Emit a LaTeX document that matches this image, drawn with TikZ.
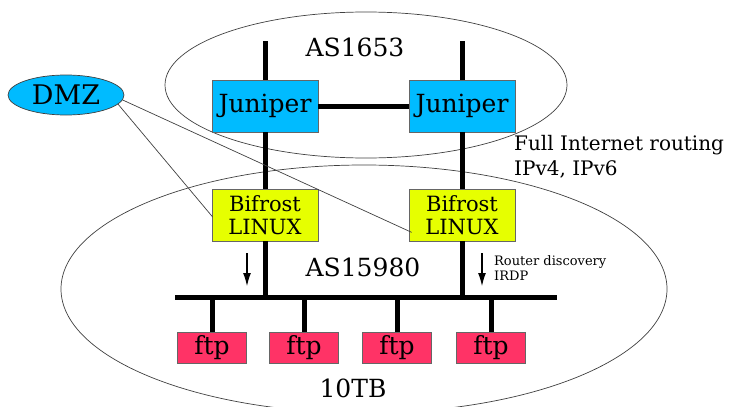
\documentclass[tikz,border=0pt]{standalone}
\usepackage{fontspec}
\setmainfont{DejaVu Serif}
\usepackage{tikz}
\usetikzlibrary{calc,positioning,arrows.meta,shapes.geometric}
\definecolor{jblue}{RGB}{0,187,255}
\definecolor{bifyellow}{RGB}{230,255,0}
\definecolor{ftpred}{RGB}{255,51,102}
\begin{document}
\begin{tikzpicture}[x=1pt,y=-1pt,
    box/.style={draw=black!60,line width=0.7pt,inner sep=0pt},
    jun/.style={box,fill=jblue,minimum width=106pt,minimum height=52pt,font=\fontsize{25}{28}\selectfont},
    bif/.style={box,fill=bifyellow,minimum width=106pt,minimum height=52pt,align=center,font=\fontsize{21}{23}\selectfont},
    ftpbox/.style={box,fill=ftpred,minimum width=69pt,minimum height=31pt,font=\fontsize{25}{28}\selectfont},
    wire/.style={line width=5pt},
    thin/.style={draw=black!75,line width=0.7pt},
    down/.style={-{Latex[length=13pt,width=8pt]},line width=1.1pt},
    big/.style={font=\fontsize{25}{28}\selectfont}]
                                \useasboundingbox (0,0) rectangle (732,407);
                                \clip (0,0) rectangle (732,407);
                                \draw[thin] (366,85) ellipse [x radius=201,y radius=73];
                                \draw[thin] (364,289) ellipse [x radius=303,y radius=124];
                                \node[box,ellipse,draw=black!75,fill=jblue,minimum width=116pt,minimum height=40pt,font=\fontsize{27}{28}\selectfont] (dmz) at (66,95) {DMZ};

                                \node[jun] (junL) at (265,106) {Juniper};
                                \node[jun] (junR) at (462,106) {Juniper};
                                \node[bif] (bifL) at (265,215) {Bifrost\\LINUX};
                                \node[bif] (bifR) at (462,215) {Bifrost\\LINUX};
                                \coordinate (topL) at (265,41);
                                \coordinate (topR) at (462,41);
                                \coordinate (busW) at (175,297);
                                \coordinate (busE) at (557,297);

                                \node[ftpbox] (ftp1) at (212,348) {ftp};
                                \node[ftpbox] (ftp2) at (304,348) {ftp};
                                \node[ftpbox] (ftp3) at (397,348) {ftp};
                                \node[ftpbox] (ftp4) at (491,348) {ftp};

                                \draw[wire] (topL) -- (junL);
                                \draw[wire] (topR) -- (junR);
                                \draw[wire] (junL) -- (bifL);
                                \draw[wire] (junR) -- (bifR);
                                \draw[wire] (junL) -- (junR);
                                \draw[wire] (bifL) -- (bifL |- busW);
                                \draw[wire] (bifR) -- (bifR |- busW);
                                \draw[wire] (busW) -- (busE);
                                \foreach \f in {ftp1,ftp2,ftp3,ftp4}
                                    \draw[wire] (\f) -- (\f |- busW);

                                \draw[thin] (dmz.-5) -- ($(bifR.south west)+(3,-9)$);
                                \draw[thin] (dmz.-10) -- ($(bifL.west)+(1,2)$);

                                \coordinate (irdL1) at (247,253);
                                \coordinate (irdL2) at (247,286);
                                \coordinate (irdR1) at (482,253);
                                \coordinate (irdR2) at (482,286);
                                \draw[down] (irdL1) -- (irdL2);
                                \draw[down] (irdR1) -- (irdR2);

                                \node[big] (as1) at (355,47) {AS1653};
                                \node[big] (as2) at (363,267) {AS15980};
                                \node[big] (tb) at (353,388) {10TB};
                                \node[anchor=west,align=left,inner sep=0pt,font=\fontsize{20}{25}\selectfont] (full) at (514,157) {Full Internet routing\\IPv4, IPv6};
                                \node[anchor=west,align=left,inner sep=0pt,font=\fontsize{13}{15}\selectfont] (rd) at (494,268) {Router discovery\\IRDP};
                            \end{tikzpicture}
\end{document}
